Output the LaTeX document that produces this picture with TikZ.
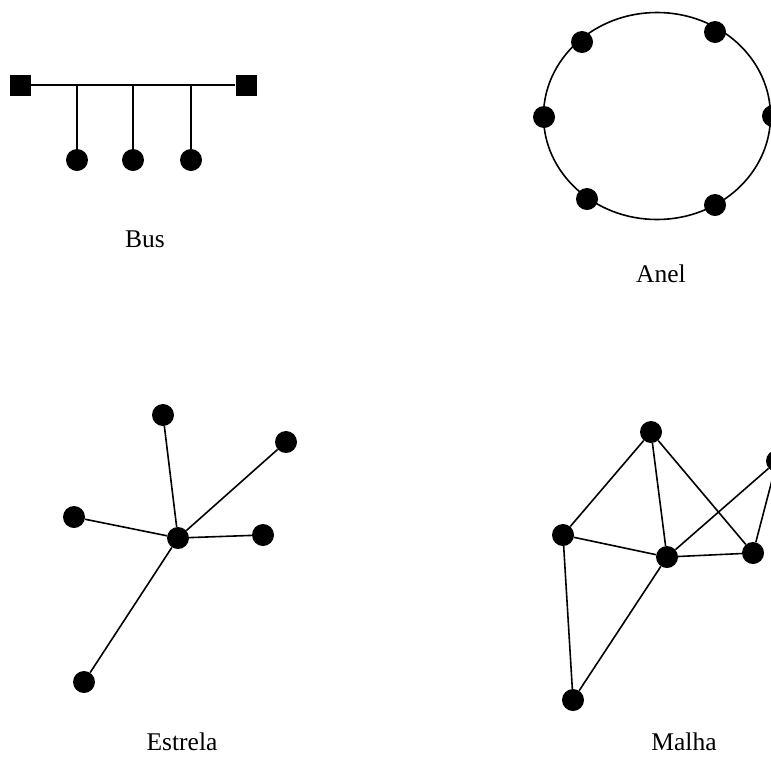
\documentclass[tikz,border=0pt]{standalone}
\usepackage{fontspec}
\setmainfont{Liberation Serif}
\usetikzlibrary{shapes.geometric}
\begin{document}
\begin{tikzpicture}[x=1pt,y=-1pt,
  dot/.style={circle,fill=black,inner sep=0pt,minimum size=22pt},
  term/.style={rectangle,fill=black,inner sep=0pt,minimum size=21pt},
  link/.style={line width=1.6pt},
  lbl/.style={font=\fontsize{25.5}{30}\selectfont,anchor=base,inner sep=0pt}]
\useasboundingbox (0,0) rectangle (771,756);
\clip (0,0) rectangle (771,756);
% Bus
\node[term] (t1) at (20,85) {};
\node[term] (t2) at (246,85) {};
\coordinate (j1) at (77,85);
\coordinate (j2) at (133,85);
\coordinate (j3) at (191,85);
\node[dot] (b1) at (77,160) {};
\node[dot] (b2) at (133,160) {};
\node[dot] (b3) at (191,160) {};
\draw[link] (t1) -- (t2);
\draw[link] (j1) -- (b1);
\draw[link] (j2) -- (b2);
\draw[link] (j3) -- (b3);
\node[lbl] (lbus) at (145,247) {Bus};
% Anel
\node[draw,ellipse,line width=1.6pt,minimum width=227pt,minimum height=207pt,inner sep=0pt] (ring) at (657,116) {};
\node[dot] (a1) at (582,42) {};
\node[dot] (a2) at (715,32) {};
\node[dot] (a3) at (544,117) {};
\node[dot] (a4) at (773,116) {};
\node[dot] (a5) at (587,199) {};
\node[dot] (a6) at (715,205) {};
\node[lbl] (lanel) at (661,282) {Anel};
% Estrela
\node[dot] (c) at (178,538) {};
\node[dot] (s1) at (163,415) {};
\node[dot] (s2) at (286,442) {};
\node[dot] (s3) at (74,517) {};
\node[dot] (s4) at (263,535) {};
\node[dot] (s5) at (84,682) {};
\foreach \n in {s1,s2,s3,s4,s5} \draw[link] (c) -- (\n);
\node[lbl] (lest) at (182,750) {Estrela};
% Malha
\node[dot] (m1) at (651,432) {};
\node[dot] (m2) at (777,461) {};
\node[dot] (m3) at (563,535) {};
\node[dot] (m4) at (667,557) {};
\node[dot] (m5) at (753,553) {};
\node[dot] (m6) at (573,700) {};
\draw[link] (m1) -- (m3);
\draw[link] (m1) -- (m4);
\draw[link] (m1) -- (m5);
\draw[link] (m2) -- (m4);
\draw[link] (m2) -- (m5);
\draw[link] (m3) -- (m4);
\draw[link] (m4) -- (m5);
\draw[link] (m3) -- (m6);
\draw[link] (m4) -- (m6);
\node[lbl] (lmal) at (684,750) {Malha};
\end{tikzpicture}
\end{document}
